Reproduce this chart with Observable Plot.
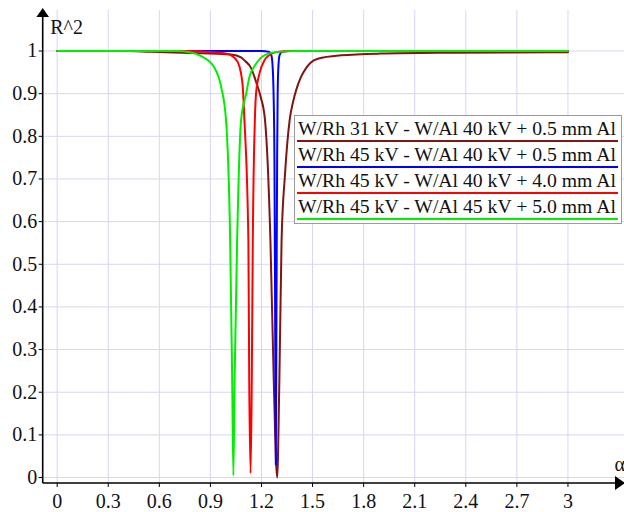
<!DOCTYPE html>
<html>
<head>
<meta charset="utf-8">
<script src="https://cdn.jsdelivr.net/npm/d3@7"></script>
<script src="https://cdn.jsdelivr.net/npm/@observablehq/plot@0.6"></script>
<style>
  html, body { margin: 0; padding: 0; background: #fff; }
  #wrap { position: relative; width: 624px; height: 512px; font-family: "Liberation Serif", "Times New Roman", serif; }
  #legend { position: absolute; left: 294px; top: 115px; width: 326px; background: #fff; border: 1px solid #9a9a9a; padding-bottom: 3px; }
  .row { margin: 0 3px 0 2px; font-size: 19.7px; line-height: 24px; height: 24px; padding-left: 1px; white-space: nowrap; color: #111; border-bottom: 2px solid; }
</style>
</head>
<body>
<div id="wrap"></div>
<script>
const FONT = "Liberation Serif, Times New Roman, serif";
const seriesNames = [
  "W/Rh 31 kV - W/Al 40 kV + 0.5 mm Al",
  "W/Rh 45 kV - W/Al 40 kV + 0.5 mm Al",
  "W/Rh 45 kV - W/Al 40 kV + 4.0 mm Al",
  "W/Rh 45 kV - W/Al 45 kV + 5.0 mm Al"
];
const seriesColors = ["#821414", "#0000ff", "#ff0000", "#00ee00"];

const xTicks = [0, 0.3, 0.6, 0.9, 1.2, 1.5, 1.8, 2.1, 2.4, 2.7, 3];
const yTicks = [0, 0.1, 0.2, 0.3, 0.4, 0.5, 0.6, 0.7, 0.8, 0.9, 1];

// dark red
const s1x = [0, 0.40, 0.55, 0.85, 1.022, 1.080, 1.100, 1.139, 1.168, 1.195, 1.221, 1.2525, 1.272, 1.292, 1.305, 1.318, 1.338, 1.365, 1.385, 1.405, 1.433, 1.462, 1.487, 1.531, 1.668, 1.90, 2.31, 2.90, 3.0];
const s1y = [1, 1.0, 0.998, 0.995, 0.992, 0.985, 0.978, 0.960, 0.928, 0.893, 0.837, 0.556, 0.228, 0.0, 0.228, 0.556, 0.71, 0.837, 0.88, 0.91, 0.94, 0.960, 0.972, 0.982, 0.99, 0.994, 0.996, 0.997, 0.997];
// blue
const s2x = [0, 1.20, 1.245, 1.258, 1.266, 1.271, 1.276, 1.280, 1.284, 1.288, 1.292, 1.295, 1.299, 1.306, 1.32, 1.36, 3.0];
const s2y = [1, 1.0, 0.998, 0.99, 0.96, 0.90, 0.75, 0.40, 0.03, 0.40, 0.75, 0.90, 0.96, 0.99, 0.998, 1.0, 1.0];
// red
const s3x = [0, 0.75, 0.92, 0.99, 1.022, 1.061, 1.080, 1.090, 1.100, 1.123, 1.128, 1.136, 1.143, 1.149, 1.161, 1.168, 1.188, 1.217, 1.245, 1.296, 1.374, 3.0];
const s3y = [1, 1.0, 0.997, 0.994, 0.99, 0.974, 0.947, 0.916, 0.837, 0.556, 0.228, 0.01, 0.228, 0.556, 0.837, 0.9, 0.947, 0.978, 0.99, 0.998, 1.0, 1.0];
// green
const s4x = [0, 0.70, 0.78, 0.846, 0.922, 0.963, 0.992, 1.016, 1.028, 1.035, 1.042, 1.057, 1.080, 1.110, 1.129, 1.168, 1.217, 1.296, 1.40, 3.0];
const s4y = [1, 1.0, 0.997, 0.988, 0.962, 0.916, 0.837, 0.556, 0.228, 0.005, 0.228, 0.556, 0.837, 0.9, 0.939, 0.970, 0.990, 0.998, 1.0, 1.0];

const seriesX = [s1x, s2x, s3x, s4x];
const seriesY = [s1y, s2y, s3y, s4y];

const rows = [];
seriesX.forEach((xs, i) => xs.forEach((x, j) => rows.push({s: i, x, y: seriesY[i][j]})));

const gridColor = "#d6d6f6";

function axesDecor(index, scales, values, dims) {
  const {width, height, marginLeft, marginTop, marginBottom} = dims;
  const g = d3.create("svg:g");
  const x0 = marginLeft, yb = height - marginBottom;
  g.append("line").attr("x1", x0).attr("x2", width - 6).attr("y1", yb).attr("y2", yb)
    .attr("stroke", "#000").attr("stroke-width", 1.6);
  g.append("line").attr("x1", x0).attr("x2", x0).attr("y1", marginTop + 6).attr("y2", yb)
    .attr("stroke", "#000").attr("stroke-width", 1.6);
  g.append("path").attr("d", `M${x0 - 6.3},${marginTop + 7}L${x0},${marginTop - 2}L${x0 + 6.3},${marginTop + 7}Z`).attr("fill", "#000");
  g.append("path").attr("d", `M${width - 9},${yb - 7}L${width + 1},${yb}L${width - 9},${yb + 7}Z`).attr("fill", "#000");
  return g.node();
}

const plot = Plot.plot({
  width: 624,
  height: 512,
  marginLeft: 42.7,
  marginRight: 0,
  marginTop: 10,
  marginBottom: 29,
  style: {fontFamily: FONT, fontSize: "20px", color: "#111", background: "#fff"},
  x: {domain: [-0.082, 3.332]},
  y: {domain: [-0.014, 1.095]},
  marks: [
    Plot.gridX(xTicks, {stroke: gridColor, strokeOpacity: 1}),
    Plot.gridY(yTicks, {stroke: gridColor, strokeOpacity: 1}),
    ...[0, 1, 2, 3].map(i => Plot.line(rows.filter(d => d.s === i), {x: "x", y: "y", stroke: seriesColors[i], strokeWidth: 2, curve: "monotone-x"})),
    Plot.axisX(xTicks, {tickSize: 4, tickPadding: 6, tickFormat: d => String(d), label: null, stroke: "#000", fontFamily: FONT, fontSize: 20}),
    Plot.axisY(yTicks, {tickSize: 4, tickPadding: 2, tickFormat: d => String(d), label: null, stroke: "#000", fontFamily: FONT, fontSize: 20}),
    axesDecor,
    Plot.text(["R^2"], {frameAnchor: "top-left", dx: 7, dy: 9, textAnchor: "start", fill: "#111", fontFamily: FONT, fontSize: 20}),
    Plot.text(["α"], {frameAnchor: "bottom-right", dx: -10, dy: -13, textAnchor: "start", fill: "#111", fontFamily: FONT, fontSize: 20})
  ]
});

const wrap = document.getElementById("wrap");
wrap.appendChild(plot);
const legend = document.createElement("div");
legend.id = "legend";
seriesNames.forEach((name, i) => {
  const r = document.createElement("div");
  r.className = "row";
  r.style.borderBottomColor = seriesColors[i];
  r.textContent = name;
  legend.appendChild(r);
});
wrap.appendChild(legend);
</script>
</body>
</html>
